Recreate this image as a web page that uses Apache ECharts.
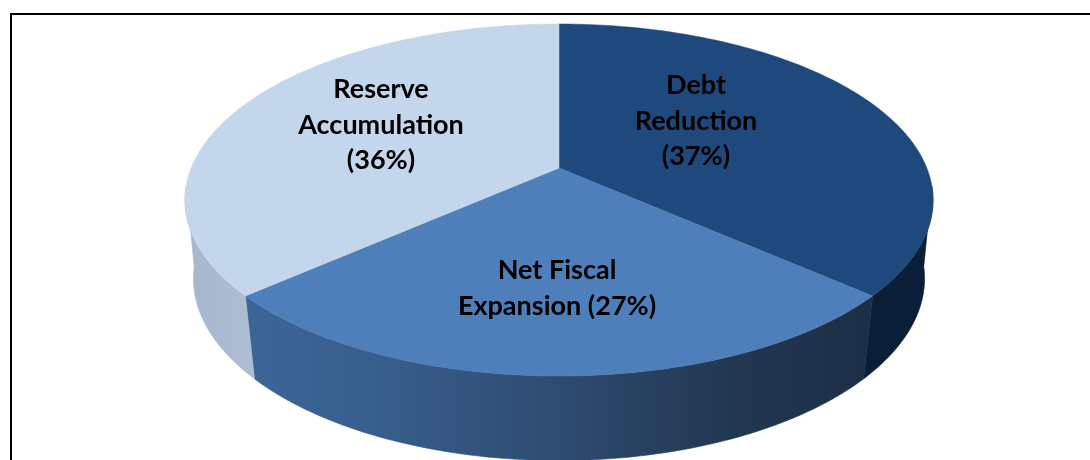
<!DOCTYPE html>
<html>
<head>
<meta charset="utf-8">
<style>html,body{margin:0;padding:0;background:#fff}#c{width:1090px;height:460px}</style>
<script src="https://cdn.jsdelivr.net/npm/echarts@6/dist/echarts.min.js"></script>
</head>
<body>
<div id="c"></div>
<script>
// Data
const categories = ['Debt Reduction', 'Net Fiscal Expansion', 'Reserve Accumulation'];
const values = [36.5, 27.0, 36.5];
const labelLines = [['Debt', 'Reduction', '(37%)'], ['Net Fiscal', 'Expansion (27%)'], ['Reserve', 'Accumulation', '(36%)']];
const topColors = ['#1f497d', '#4f7fba', '#c3d6ec'];

// Projection of the tilted disc
const CX = 559, CY = 168, R = 367.8, S = 170.2, K = 0.1818;
const VIS_A = 96, VIS_B = 264;
const project = deg => {
  const t = deg * Math.PI / 180, c = Math.cos(t), s = Math.sin(t), w = 1 + K * c;
  return [CX + R * s / w, CY - S * c / w];
};
// Lower rim: the wall shrinks and lengthens slightly towards the viewer
const lower = deg => {
  const p = project(deg), c = Math.cos(deg * Math.PI / 180);
  return [CX + (p[0] - CX) * (0.9796 + 0.0128 * c), p[1] + 80 - 4.5 * c];
};
const steps = (a, b) => {
  const n = Math.max(2, Math.ceil(Math.abs(b - a))), out = [];
  for (let i = 0; i <= n; i++) out.push(a + (b - a) * i / n);
  return out;
};
const grad = (x0, x1, stops) => new echarts.graphic.LinearGradient(x0, 0, x1, 0,
  stops.map(s => ({ offset: s[0], color: s[1] })), true);
const wallFill = [
  () => '#0b1e38',
  () => grad(250, 866, [[0, '#3c6597'], [0.22, '#375d8b'], [0.5, '#2e4b70'], [0.8, '#21364f'], [1, '#1d2f47']]),
  () => grad(188, 255, [[0, '#a6b7cf'], [1, '#aebdd3']])
];
const labelPos = [[696, 121], [557, 288.5], [381, 125]];
const LINE_H = 35.5;

let cum = 0;
const total = values.reduce((a, b) => a + b, 0);
const rows = categories.map((name, i) => {
  const start = cum / total * 360;
  cum += values[i];
  return { name, value: [i, start, cum / total * 360, values[i]] };
});

const renderItem = (params, api) => {
  const i = api.value(0), a = api.value(1), b = api.value(2);
  const children = [];
  const wa = Math.max(a, VIS_A), wb = Math.min(b, VIS_B);
  if (wb > wa) {
    const d = steps(wa, wb);
    const pts = d.map(project).concat(d.slice().reverse().map(lower));
    const fill = wallFill[i]();
    children.push({ type: 'polygon', shape: { points: pts },
      style: { fill, stroke: fill, lineWidth: 0.6 }, z2: 1 });
  }
  const face = [[CX, CY]].concat(steps(a, b).map(project));
  children.push({ type: 'polygon', shape: { points: face },
    style: { fill: topColors[i], stroke: topColors[i], lineWidth: 0.5 }, z2: 2 });
  labelLines[i].forEach((t, j) => {
    const n = labelLines[i].length;
    children.push({ type: 'text', z2: 10,
      style: { text: t, x: labelPos[i][0], y: labelPos[i][1] + (j - (n - 1) / 2) * LINE_H,
        align: 'center', verticalAlign: 'middle', fill: '#000',
        font: 'bold 27px Lato, "Open Sans", sans-serif' } });
  });
  return { type: 'group', children };
};

const chart = echarts.init(document.getElementById('c'), null, { renderer: 'canvas' });
chart.setOption({
  animation: false,
  graphic: [{ type: 'rect', z: -1, shape: { x: 11, y: 14, width: 1100, height: 470 },
    style: { fill: '#fff', stroke: '#000', lineWidth: 2 } }],
  series: [
    { type: 'custom', coordinateSystem: 'none', renderItem, data: rows, silent: true,
      encode: { tooltip: 3 } }
  ]
});
</script>
</body>
</html>
